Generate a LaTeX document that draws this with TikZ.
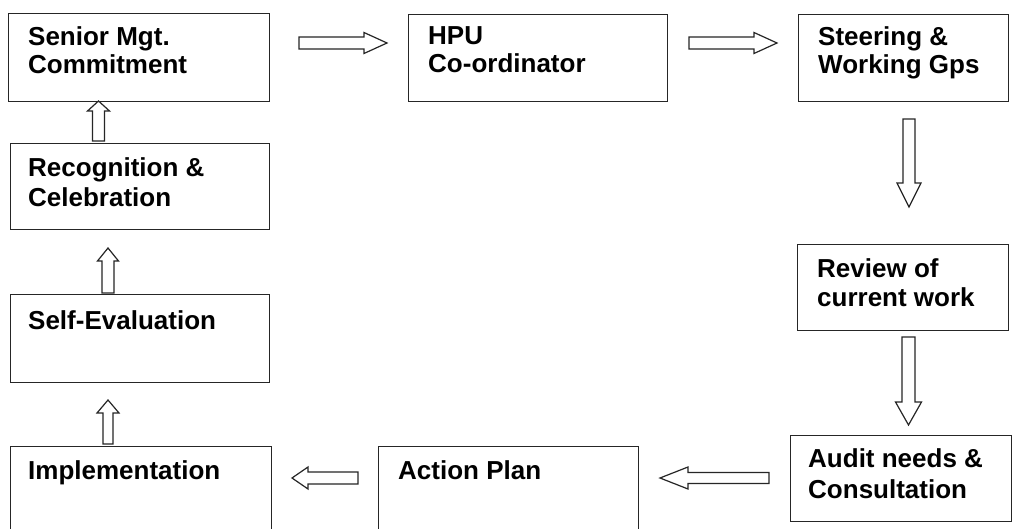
\documentclass[tikz,border=0pt]{standalone}
\usepackage{fontspec}
\setmainfont{Liberation Sans}
\usetikzlibrary{calc}
\tikzset{
  box/.style={draw=black!85, line width=1.3pt, rectangle, inner sep=0pt, anchor=north west},
  txt/.style={font=\fontsize{26}{31}\selectfont\bfseries, align=left, inner sep=0pt, anchor=north west},
  barrow/.style n args={3}{draw=black!85, line width=1.2pt, fill=white, line join=miter,
    to path={
      ($(\tikztostart)!#1!90:(\tikztotarget)$)
      -- ($($(\tikztotarget)!#3!(\tikztostart)$)!#1!-90:(\tikztostart)$)
      -- ($($(\tikztotarget)!#3!(\tikztostart)$)!#2!-90:(\tikztostart)$)
      -- (\tikztotarget)
      -- ($($(\tikztotarget)!#3!(\tikztostart)$)!#2!90:(\tikztostart)$)
      -- ($($(\tikztotarget)!#3!(\tikztostart)$)!#1!90:(\tikztostart)$)
      -- ($(\tikztostart)!#1!-90:(\tikztotarget)$)
      -- cycle}}
}
\begin{document}
\begin{tikzpicture}[x=1pt,y=-1pt]
\clip (0,0) rectangle (1017,529);
\fill[white] (0,0) rectangle (1017,529);
% boxes
\node[box, minimum width=261pt, minimum height=88pt] (senior) at (8,13) {};
\node[box, minimum width=259pt, minimum height=87pt] (hpu) at (408,14) {};
\node[box, minimum width=210pt, minimum height=87pt] (steer) at (798,14) {};
\node[box, minimum width=259pt, minimum height=86pt] (recog) at (10,143) {};
\node[box, minimum width=211pt, minimum height=86pt] (review) at (797,244) {};
\node[box, minimum width=259pt, minimum height=88pt] (self) at (10,294) {};
\node[box, minimum width=221pt, minimum height=86pt] (audit) at (790,435) {};
\node[box, minimum width=260pt, minimum height=100pt] (action) at (378,446) {};
\node[box, minimum width=261pt, minimum height=100pt] (impl) at (10,446) {};
% texts
\node[txt] (seniorT) at ($(senior.north west)+(20,13)$) {Senior Mgt.\\[-3pt]Commitment};
\node[txt] (hpuT) at ($(hpu.north west)+(20,12)$) {HPU\\[-3pt]Co-ordinator};
\node[txt] (steerT) at ($(steer.north west)+(20,12)$) {Steering \&\\[-3pt]Working Gps};
\node[txt] (recogT) at ($(recog.north west)+(18,14)$) {Recognition \&\\[-1pt]Celebration};
\node[txt] (reviewT) at ($(review.north west)+(20,14)$) {Review of\\[-2pt]current work};
\node[txt] (selfT) at ($(self.north west)+(18,16)$) {Self-Evaluation};
\node[txt] (auditT) at ($(audit.north west)+(18,13)$) {Audit needs \&\\Consultation};
\node[txt] (actionT) at ($(action.north west)+(20,14)$) {Action Plan};
\node[txt] (implT) at ($(impl.north west)+(18,14)$) {Implementation};
% arrow end points
\coordinate (a1s) at (299,43);   \coordinate (a1e) at (387,43);
\coordinate (a2s) at (689,43);   \coordinate (a2e) at (777,43);
\coordinate (a3s) at (909,119);  \coordinate (a3e) at (909,207);
\coordinate (a4s) at (908.5,337);\coordinate (a4e) at (908.5,425);
\coordinate (a5s) at (769,478);  \coordinate (a5e) at (660,478);
\coordinate (a6s) at (358,478);  \coordinate (a6e) at (292,478);
\coordinate (u1s) at (98.5,141); \coordinate (u1e) at (98.5,101);
\coordinate (u2s) at (108,293);  \coordinate (u2e) at (108,248);
\coordinate (u3s) at (108,444);  \coordinate (u3e) at (108,400);
% arrows
\draw[barrow={6pt}{10.5pt}{23pt}] (a1s) to (a1e);
\draw[barrow={6pt}{10.5pt}{23pt}] (a2s) to (a2e);
\draw[barrow={6pt}{12pt}{24pt}] (a3s) to (a3e);
\draw[barrow={6.5pt}{13pt}{23pt}] (a4s) to (a4e);
\draw[barrow={5.5pt}{11pt}{28pt}] (a5s) to (a5e);
\draw[barrow={6pt}{11pt}{16pt}] (a6s) to (a6e);
\draw[barrow={6pt}{11pt}{10pt}] (u1s) to (u1e);
\draw[barrow={6pt}{10.5pt}{13pt}] (u2s) to (u2e);
\draw[barrow={5pt}{11pt}{13pt}] (u3s) to (u3e);
\end{tikzpicture}
\end{document}
